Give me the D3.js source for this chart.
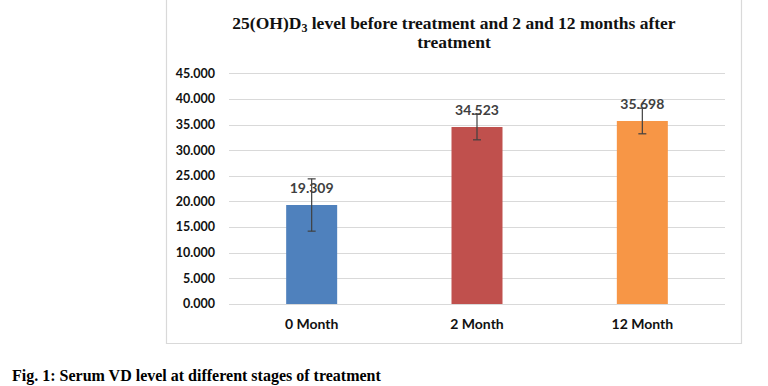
<!DOCTYPE html>
<html>
<head>
<meta charset="utf-8">
<script src="https://cdn.jsdelivr.net/npm/d3@7"></script>
<style>
  body { margin: 0; background: #fff; }
  svg { display: block; }
</style>
</head>
<body>
<svg id="chart" width="768" height="386"></svg>
<script>
// Chart data
var categories = ['0 Month', '2 Month', '12 Month'];
var values = [19.309, 34.523, 35.698];
var errors = [5.1, 2.5, 2.5];
var barColors = ['#4f81bd', '#c0504d', '#f79646'];
var yTicks = [0, 5, 10, 15, 20, 25, 30, 35, 40, 45];

var config = {
  plotLeft: 229,
  plotRight: 725,
  plotTop: 73.3,
  plotBottom: 304,
  barWidth: 51,
  gridColor: '#d9d9d9',
  labelFont: 'Lato, "Open Sans", sans-serif',
  serifFont: '"Liberation Serif", "Times New Roman", serif'
};

var svg = d3.select('#chart');

// Outer chart border (top edge is off the picture)
svg.append('path')
  .attr('d', 'M166.5,-5 V343.5 H741.5 V-5')
  .attr('fill', 'none')
  .attr('stroke', config.gridColor)
  .attr('stroke-width', 1.2);

var x = d3.scaleBand()
  .domain(categories)
  .range([config.plotLeft, config.plotRight]);

var y = d3.scaleLinear()
  .domain([0, 45])
  .range([config.plotBottom, config.plotTop]);

// Gridlines
svg.append('g')
  .selectAll('line')
  .data(yTicks)
  .enter().append('line')
  .attr('x1', config.plotLeft)
  .attr('x2', config.plotRight)
  .attr('y1', function(d) { return Math.round(y(d)) + 0.5; })
  .attr('y2', function(d) { return Math.round(y(d)) + 0.5; })
  .attr('stroke', config.gridColor)
  .attr('stroke-width', 1);

// Y axis labels
svg.append('g')
  .selectAll('text')
  .data(yTicks)
  .enter().append('text')
  .attr('x', 215)
  .attr('y', function(d) { return y(d); })
  .attr('dy', '0.35em')
  .attr('text-anchor', 'end')
  .attr('font-family', config.labelFont)
  .attr('font-weight', 'bold')
  .attr('font-size', '12.5px')
  .attr('fill', '#111')
  .text(function(d) { return d3.format('.3f')(d); });

// Bars
svg.append('g')
  .selectAll('rect')
  .data(values)
  .enter().append('rect')
  .attr('x', function(d, i) { return x(categories[i]) + x.bandwidth() / 2 - config.barWidth / 2; })
  .attr('y', function(d) { return y(d); })
  .attr('width', config.barWidth)
  .attr('height', function(d) { return y(0) - y(d); })
  .attr('fill', function(d, i) { return barColors[i]; });

// Error bars
var errG = svg.append('g')
  .attr('stroke', '#404040')
  .attr('stroke-width', 1.2);
values.forEach(function(v, i) {
  var cx = x(categories[i]) + x.bandwidth() / 2;
  errG.append('line')
    .attr('x1', cx).attr('x2', cx)
    .attr('y1', y(v + errors[i])).attr('y2', y(v - errors[i]));
  [v + errors[i], v - errors[i]].forEach(function(e) {
    errG.append('line')
      .attr('x1', cx - 4).attr('x2', cx + 4)
      .attr('y1', y(e)).attr('y2', y(e));
  });
});

// Value labels
svg.append('g')
  .selectAll('text')
  .data(values)
  .enter().append('text')
  .attr('x', function(d, i) { return x(categories[i]) + x.bandwidth() / 2; })
  .attr('y', function(d) { return y(d) - 12; })
  .attr('text-anchor', 'middle')
  .attr('font-family', config.labelFont)
  .attr('font-weight', 'bold')
  .attr('font-size', '14px')
  .attr('fill', '#404040')
  .text(function(d) { return d3.format('.3f')(d); });

// Category labels
svg.append('g')
  .selectAll('text')
  .data(categories)
  .enter().append('text')
  .attr('x', function(d) { return x(d) + x.bandwidth() / 2; })
  .attr('y', 328.5)
  .attr('text-anchor', 'middle')
  .attr('font-family', config.labelFont)
  .attr('font-weight', 'bold')
  .attr('font-size', '14px')
  .attr('fill', '#111')
  .text(function(d) { return d; });

// Title
var title = svg.append('text')
  .attr('x', 454)
  .attr('y', 28.5)
  .attr('text-anchor', 'middle')
  .attr('font-family', config.serifFont)
  .attr('font-weight', 'bold')
  .attr('font-size', '17.5px')
  .attr('fill', '#111');
title.append('tspan').text('25(OH)D');
title.append('tspan').attr('font-size', '12px').attr('dy', 3).text('3');
title.append('tspan').attr('dy', -3).text(' level before treatment and 2 and 12 months after');
svg.append('text')
  .attr('x', 454)
  .attr('y', 47.5)
  .attr('text-anchor', 'middle')
  .attr('font-family', config.serifFont)
  .attr('font-weight', 'bold')
  .attr('font-size', '17.5px')
  .attr('fill', '#111')
  .text('treatment');

// Figure caption
svg.append('text')
  .attr('x', 12)
  .attr('y', 381)
  .attr('font-family', config.serifFont)
  .attr('font-weight', 'bold')
  .attr('font-size', '16px')
  .attr('fill', '#000')
  .text('Fig. 1: Serum VD level at different stages of treatment');
</script>
</body>
</html>
